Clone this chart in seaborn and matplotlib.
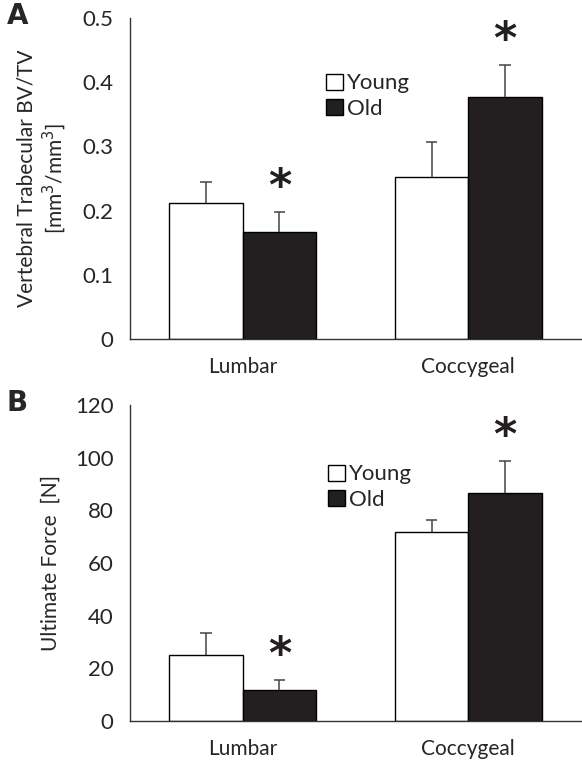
import numpy as np
import pandas as pd
import matplotlib as mpl

mpl.use('Agg')

import matplotlib.pyplot as plt
import seaborn as sns

# data
regions = ["Lumbar", "Coccygeal"]
groups = ["Young", "Old"]

bvtv_young = [0.212, 0.252]
bvtv_old = [0.167, 0.377]
bvtv_young_err = [0.033, 0.055]
bvtv_old_err = [0.031, 0.050]

force_young = [25.1, 71.8]
force_old = [11.8, 86.6]
force_young_err = [8.3, 4.5]
force_old_err = [3.8, 12.1]

# significance marks (region index of the Old bar)
stars = [0, 1]

sns.set_style("white")
plt.rcParams['font.family'] = ['Lato', 'DejaVu Sans']

EDGE = "#333333"
BLACK = "#231f20"
ERR = "#444444"


def make_frame(young, old, young_err, old_err):
    rows = []
    for i, r in enumerate(regions):
        rows.append({"region": r, "group": "Young", "value": young[i], "err": young_err[i]})
        rows.append({"region": r, "group": "Old", "value": old[i], "err": old_err[i]})
    return pd.DataFrame(rows)


def draw_panel(ax, df, ylim, yticks, ylabel, legend_xy, star_off, letter):
    sns.barplot(data=df, x="region", y="value", hue="group", hue_order=groups,
                order=regions, palette={"Young": "white", "Old": BLACK},
                edgecolor="black", linewidth=1.0, width=0.65, errorbar=None,
                saturation=1, ax=ax)

    # upward-only error bars: stem plus a single top cap
    cap = 0.025
    for container, g in zip(ax.containers, groups):
        sub = df[df["group"] == g].set_index("region").loc[regions]
        xs = np.array([p.get_x() + p.get_width() / 2 for p in container.patches])
        tops = sub["value"].values + sub["err"].values
        ax.vlines(xs, sub["value"].values, tops, color=ERR, linewidth=1.1)
        ax.hlines(tops, xs - cap, xs + cap, color=ERR, linewidth=1.1)
        if g == "Old":
            for i in stars:
                ax.text(xs[i], tops[i] + star_off, "*", ha="center", va="bottom",
                        fontsize=32, fontweight="bold", color=BLACK,
                        family="DejaVu Sans")

    ax.set_xlim(-0.5, 1.5)
    ax.set_ylim(*ylim)
    ax.set_yticks(yticks)
    ax.set_yticklabels([f"{t:g}" for t in yticks])
    ax.set_xticks([0.5, 1.5], minor=True)
    ax.tick_params(axis="x", which="major", length=0, pad=13, labelsize=15)
    ax.tick_params(axis="x", which="minor", length=6, width=1, color=EDGE, direction="out")
    ax.tick_params(axis="y", length=6, width=1, color=EDGE, direction="out",
                   labelsize=16, pad=6)
    ax.set_xlabel("")
    ax.set_ylabel(ylabel, fontsize=15, labelpad=10)

    sns.despine(ax=ax)
    for s in ["left", "bottom"]:
        ax.spines[s].set_color(EDGE)
        ax.spines[s].set_linewidth(1.0)

    handles, labels = ax.get_legend_handles_labels()
    ax.legend(handles, labels, loc="upper left", bbox_to_anchor=legend_xy,
              frameon=False, fontsize=16, handlelength=0.75, handleheight=0.75,
              handletextpad=0.2, labelspacing=0.25, borderaxespad=0)

    ax.figure.text(0.012, ax.get_position().y1 + 0.003, letter, fontsize=20,
                   fontweight="bold", family="DejaVu Sans", va="center", ha="left")


fig = plt.figure(figsize=(5.82, 7.67), dpi=100)
ax_a = fig.add_axes([0.2234, 0.558, 0.775, 0.4185])
ax_b = fig.add_axes([0.2234, 0.060, 0.775, 0.412])

draw_panel(ax_a, make_frame(bvtv_young, bvtv_old, bvtv_young_err, bvtv_old_err),
           (0, 0.5), [0, 0.1, 0.2, 0.3, 0.4, 0.5],
           "Vertebral Trabecular BV/TV\n[mm$^3$/mm$^3$]", (0.415, 0.855), 0.004, "A")
draw_panel(ax_b, make_frame(force_young, force_old, force_young_err, force_old_err),
           (0, 120), [0, 20, 40, 60, 80, 100, 120],
           "Ultimate Force  [N]", (0.42, 0.84), 1.0, "B")

fig.savefig("out.png", dpi=100)
